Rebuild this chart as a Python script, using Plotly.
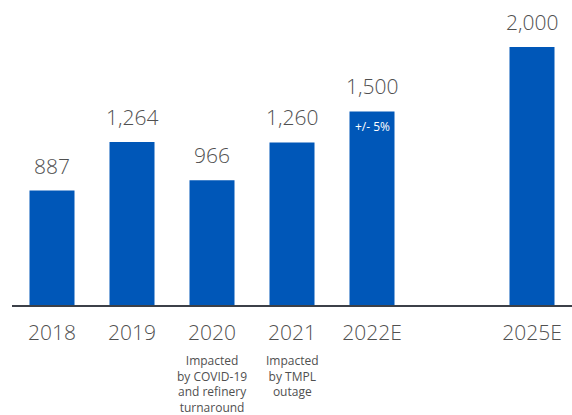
import plotly.graph_objects as go

categories = ["2018", "2019", "2020", "2021", "2022E", "", "2025E"]
values = [887, 1264, 966, 1260, 1500, None, 2000]
value_labels = ["887", "1,264", "966", "1,260", "1,500", "", "2,000"]
notes = {"2020": "Impacted<br>by COVID-19<br>and refinery<br>turnaround",
         "2021": "Impacted<br>by TMPL<br>outage"}
inner_note = {"2022E": "+/- 5%"}

BAR = "#0057b8"
TXT = "#505050"
FONT = "Open Sans"

pos = list(range(len(categories)))

fig = go.Figure(go.Bar(x=pos, y=values, marker_color=BAR, marker_line_width=0, hoverinfo="skip"))

ann = []
for p, v, lab in zip(pos, values, value_labels):
    if v is None:
        continue
    ann.append(dict(x=p, y=v, xref="x", yref="y", text=lab, showarrow=False,
                    yanchor="bottom", yshift=9, font=dict(family=FONT, size=21, color=TXT, weight=300)))
for c, t in notes.items():
    ann.append(dict(x=categories.index(c), y=0, xref="x", yref="paper", text=t, showarrow=False,
                    yanchor="top", yshift=-45, font=dict(family=FONT, size=12, color=TXT)))
for c, t in inner_note.items():
    i = categories.index(c)
    ann.append(dict(x=i, y=values[i], xref="x", yref="y", text=t, showarrow=False,
                    yanchor="top", yshift=-5, font=dict(family=FONT, size=12, color="white")))

fig.update_layout(
    width=572, height=415,
    margin=dict(l=12, r=0, t=20, b=110, autoexpand=False),
    plot_bgcolor="white", paper_bgcolor="white",
    bargap=0.4375,
    showlegend=False,
    annotations=ann,
    font=dict(family=FONT, color=TXT),
    xaxis=dict(range=[-0.5, len(categories) - 0.5], tickmode="array", tickvals=pos, ticktext=categories,
               showline=True, linecolor="#3c4048", linewidth=2, zeroline=False, automargin=False,
               ticks="", tickfont=dict(family=FONT, size=21, color=TXT, weight=300),
               ticklabelstandoff=8, showgrid=False),
    yaxis=dict(range=[0, 2209], visible=False, showgrid=False, zeroline=False, automargin=False),
)

fig.write_html("out.html", config={"displayModeBar": False},
               post_script="document.body.style.margin='0';document.body.style.overflow='hidden';")
